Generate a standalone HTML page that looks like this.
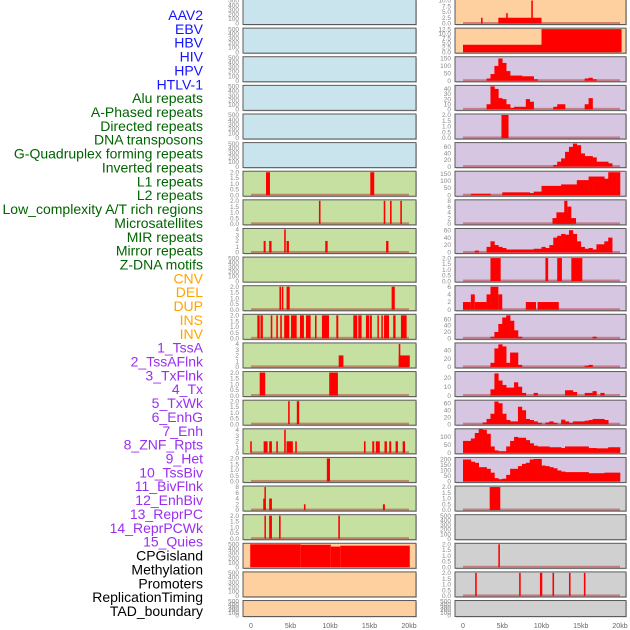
<!DOCTYPE html>
<html><head><meta charset="utf-8"><style>
html,body{margin:0;padding:0;background:#fff;}
svg{display:block;font-family:"Liberation Sans",sans-serif;}
</style></head><body>
<svg id="chart" width="630" height="630" viewBox="0 0 630 630"></svg>
<script>
// ---- data ----
const trackLabels = ["AAV2","EBV","HBV","HIV","HPV","HTLV-1","Alu repeats","A-Phased repeats","Directed repeats","DNA transposons","G-Quadruplex forming repeats","Inverted repeats","L1 repeats","L2 repeats","Low_complexity A/T rich regions","Microsatellites","MIR repeats","Mirror repeats","Z-DNA motifs","CNV","DEL","DUP","INS","INV","1_TssA","2_TssAFlnk","3_TxFlnk","4_Tx","5_TxWk","6_EnhG","7_Enh","8_ZNF_Rpts","9_Het","10_TssBiv","11_BivFlnk","12_EnhBiv","13_ReprPC","14_ReprPCWk","15_Quies","CPGisland","Methylation","Promoters","ReplicationTiming","TAD_boundary"];
const labelGroups = ["v","v","v","v","v","v","r","r","r","r","r","r","r","r","r","r","r","r","r","s","s","s","s","s","c","c","c","c","c","c","c","c","c","c","c","c","c","c","c","o","o","o","o","o"];
const xTicks = [0,5,10,15,20];
const xTickLabels = ["0","5kb","10kb","15kb","20kb"];

const leftBg = ["b","b","b","b","b","b","g","g","g","g","g","g","g","g","g","g","g","g","g","p","p","p"];
const leftYmax = [500,500,500,500,500,500,2,2,4,500,2,2,4,2,2,4,2,8,2,500,500,500];
const leftSegments = [
 [],[],[],[],[],[],
 [[1.9,2.4,2],[15.1,15.6,2]],
 [[8.6,8.8,2],[16.8,17.0,2],[17.6,17.8,2],[18.9,19.1,2]],
 [[1.6,1.85,2],[2.3,2.6,2],[4.2,4.4,4],[4.5,4.8,2],[9.4,9.7,2],[17.1,17.4,2]],
 [],
 [[3.6,3.8,2],[3.9,4.1,2],[4.5,4.9,2],[17.8,18.2,2]],
 [[0.8,1.1,2],[1.2,1.5,2],[2.5,2.7,2],[3.2,3.4,2],[3.7,3.9,2],[4.2,4.85,2],[5.07,5.78,2],[6.2,6.7,2],[6.96,7.55,2],[8.1,8.3,2],[8.98,9.87,2],[10.8,11.05,2],[12.95,13.45,2],[13.58,14.0,2],[14.55,14.97,2],[15.06,15.3,2],[16.0,16.15,2],[16.5,16.66,2],[16.84,17.47,2],[18.0,18.3,2],[18.98,19.7,2]],
 [[11.1,11.7,2],[18.7,20.1,2],[18.7,18.9,4]],
 [[1.1,1.8,2],[9.9,11.0,2]],
 [[4.7,4.9,2],[5.8,6.1,2]],
 [[-0.1,0.1,2],[1.6,2.1,2],[2.3,2.65,2],[3.2,3.4,2],[4.2,4.4,4],[4.5,5.3,2],[5.6,5.8,2],[14.3,14.5,2],[15.35,15.6,2],[15.8,16.3,2],[16.9,17.2,2],[17.5,17.75,2],[18.3,18.6,2],[19.2,19.5,2]],
 [[9.6,10.0,2]],
 [[1.55,1.75,4],[1.7,1.85,8],[2.3,2.65,4],[6.7,6.9,2],[16.7,16.95,2]],
 [[1.7,1.85,2],[2.3,2.65,2],[3.55,3.75,2],[11.05,11.25,2]],
 [[-0.1,6.3,500],[6.3,10.1,490],[10.1,11.3,450],[11.3,20.1,470]],
 [],[]
];
const leftTicks = [
 [0,100,200,300,400,500],[0,100,200,300,400,500],[0,100,200,300,400,500],[0,100,200,300,400,500],[0,100,200,300,400,500],[0,100,200,300,400,500],
 [0,0.5,1,1.5,2],[0,0.5,1,1.5,2],[0,1,2,3,4],[0,100,200,300,400,500],[0,0.5,1,1.5,2],[0,0.5,1,1.5,2],[0,1,2,3,4],[0,0.5,1,1.5,2],[0,0.5,1,1.5,2],[0,1,2,3,4],[0,0.5,1,1.5,2],[0,2,4,6,8],[0,0.5,1,1.5,2],[0,100,200,300,400,500],[0,100,200,300,400,500],[0,100,200,300,400,500]
];

const rightBg = ["p","p","u","u","u","u","u","u","u","u","u","u","u","u","u","u","u","y","y","y","y","y"];
const rightYmax = [10,12.5,155,45,2,70,160,8,62,2,6,72,56,26,66,145,210,2,500,2,2,500];
const rightSegments = [
 [[2.3,2.5,2.5],[4.5,10,2.5],[5.5,5.7,4.5],[8.7,8.9,10]],
 [[0,10,4],[10,20.2,12.5]],
 [],[],
 [[4.9,5.8,2]],
 [],[],
 [[11.4,14.4,2],[11.9,13.4,4],[12.9,13.3,8],[13.3,13.8,6]],
 [],
 [[3.5,4.8,2],[10.5,10.85,2],[12.0,12.6,2],[13.8,15.2,2]],
 [[0,1,2],[1,1.5,4],[1.5,3,2],[3.5,4.5,6],[3,3.5,4],[4.5,5,4],[8,9.3,2],[9.5,12.2,2]],
 [],[],[],[],[],[],
 [[3.4,4.75,2]],
 [],
 [[4.5,4.7,2]],
 [[1.55,1.75,2],[7.15,7.35,2],[9.8,10.1,2],[11.4,11.6,2],[13.5,13.7,2],[15.4,15.6,2]],
 []
];
// 0.5kb bins (40 values) for dense profiles
const rightBins = [];
rightBins[2]  = [0,0,0,0,0,0,15,45,100,150,120,65,35,35,35,30,30,30,10,0,0,0,0,0,0,0,0,0,0,0,0,15,20,10,0,0,0,0,0,0];
rightBins[3]  = [0,0,0,0,0,0,10,45,40,22,20,10,3,5,5,5,20,15,0,0,0,0,0,5,10,10,0,0,0,0,0,10,22,0,0,0,0,0,0,0];
rightBins[5]  = [0,0,0,0,0,0,0,0,0,0,0,0,0,0,0,0,0,0,0,0,0,0,0,5,15,25,45,60,70,65,40,32,32,28,15,15,15,10,0,0];
rightBins[6]  = [0,0,10,10,10,10,10,0,0,0,20,20,20,20,20,20,20,15,25,25,65,65,65,65,65,75,75,75,75,105,105,105,130,130,130,130,115,160,160,160];
rightBins[8]  = [0,0,0,5,0,0,15,30,20,15,12,8,8,8,8,8,8,8,10,10,15,12,20,40,45,50,48,60,50,30,15,10,12,8,22,22,30,40,0,0];
rightBins[11] = [0,0,0,0,0,0,0,5,20,45,65,72,55,25,5,0,0,0,0,0,0,0,0,0,0,0,0,0,0,0,0,0,0,5,0,0,0,0,0,0];
rightBins[12] = [0,0,0,0,0,0,0,10,45,55,50,10,35,35,5,0,0,0,0,0,0,0,0,0,0,0,0,0,0,0,0,3,5,0,0,0,0,0,0,0];
rightBins[13] = [0,0,0,0,0,0,0,7,25,17,12,9,9,15,10,3,0,0,3,0,0,0,0,0,0,0,6,6,4,0,0,3,3,5,0,3,0,0,0,0];
rightBins[14] = [0,0,0,0,0,5,15,30,65,60,30,12,8,8,50,40,15,12,8,4,0,5,8,4,0,13,8,4,8,8,8,10,12,15,15,15,12,0,0,0];
rightBins[15] = [75,75,90,125,150,145,120,40,15,10,10,40,75,100,95,95,80,60,45,40,40,40,35,35,35,30,40,40,40,40,40,40,30,30,28,28,28,35,35,35];
rightBins[16] = [200,200,180,170,130,130,115,80,30,20,25,60,115,115,140,160,170,200,205,205,145,140,130,120,100,90,85,85,85,85,85,85,75,75,75,75,80,80,80,80];
const rightTicks = [
 [0,2.5,5,7.5,10],[0,2.5,5,7.5,10,12.5],[0,50,100,150],[0,10,20,30,40],[0,0.5,1,1.5,2],[0,20,40,60],[0,50,100,150],[0,2,4,6,8],[0,20,40,60],[0,0.5,1,1.5,2],[0,2,4,6],[0,20,40,60],[0,20,40],[0,10,20],[0,20,40,60],[0,50,100],[0,50,100,150,200],[0,0.5,1,1.5,2],[0,100,200,300,400,500],[0,0.5,1,1.5,2],[0,0.5,1,1.5,2],[0,100,200,300,400,500]
];
const hasBaseLeft = [0,0,0,0,0,0,1,1,1,0,1,1,1,1,1,1,1,1,1,0,0,0];
const hasBaseRight = [1,1,1,1,1,1,1,1,1,1,1,1,1,1,1,1,1,1,0,1,1,0];

// ---- drawing ----
const NS = "http://www.w3.org/2000/svg";
const svg = document.getElementById("chart");
function mk(tag, attrs, parent){const e=document.createElementNS(NS,tag);for(const k in attrs)e.setAttribute(k,attrs[k]);(parent||svg).appendChild(e);return e;}
const groupColor = {v:"#1414ff",r:"#006400",s:"#ffa500",c:"#9a2ff0",o:"#000000"};
const bgColor = {b:"#c9e4ec",g:"#c6e0a2",p:"#fecf9f",u:"#d6c6e2",y:"#d0d0d0"};

trackLabels.forEach((t,i)=>{
  const el = mk("text",{x:203,y:20+i*13.86,"text-anchor":"end","font-size":"14",fill:groupColor[labelGroups[i]]});
  el.textContent = t;
  
  
});

function panel(col, i, bg, ymax, segs, bins, ticks, base){
  const px0 = col===0 ? 243 : 455, px1 = col===0 ? 416 : 626;
  const kx0 = col===0 ? 251 : 463, kx1 = col===0 ? 409 : 620;
  const top = i*28.62 - 0.5;
  const h = i===21 ? 16 : 25;
  const x = kb => kx0 + (kb/20)*(kx1-kx0);
  const y = v => (top+h-1) - (v/ymax)*(h-2);
  const g = mk("g",{});
  
  
  mk("rect",{x:px0+1,y:top+1,width:px1-px0,height:h,fill:"#a8a8a8",opacity:"0.6"},g);
  mk("rect",{x:px0,y:top,width:px1-px0,height:h,fill:bgColor[bg],stroke:"#5a5a5a","stroke-width":"1"},g);
  if(base) mk("rect",{x:x(0),y:y(0)-1.5,width:x(20)-x(0),height:2,fill:"#b02020",opacity:"0.45"},g);
  if(bins){
    bins.forEach((v,k)=>{ if(v>0){ const b = mk("rect",{x:x(k*0.5),y:y(v),width:x(0.5)-x(0)+0.3,height:y(0)-y(v),fill:"#ff0000"},g);
      
       }});
  }
  segs.forEach(s=>{ const w=Math.max(x(s[1])-x(s[0]),1.5); const b = mk("rect",{x:x(s[0]),y:y(s[2]),width:w,height:y(0)-y(s[2]),fill:"#ff0000"},g);
    
     });
  const dec = ticks.some(t=>t%1!==0);
  ticks.forEach(t=>{
    const tl = mk("text",{x:px0-4,y:y(t)+2.2,"text-anchor":"end","font-size":"6.5",fill:"#888"});
    tl.textContent = dec ? t.toFixed(1) : String(t);
    
    
  });
  return x;
}
for(let i=0;i<22;i++){
  panel(0,i,leftBg[i],leftYmax[i],leftSegments[i],null,leftTicks[i],hasBaseLeft[i]);
  panel(1,i,rightBg[i],rightYmax[i],rightSegments[i],rightBins[i]||null,rightTicks[i],hasBaseRight[i]);
}
[[251,409],[463,620]].forEach((r,c)=>{
  xTicks.forEach((t,k)=>{
    const el = mk("text",{x:r[0]+(t/20)*(r[1]-r[0]),y:628,"text-anchor":"middle","font-size":"7",fill:"#666"});
    el.textContent = xTickLabels[k];
    
    
  });
});
</script>
</body></html>
